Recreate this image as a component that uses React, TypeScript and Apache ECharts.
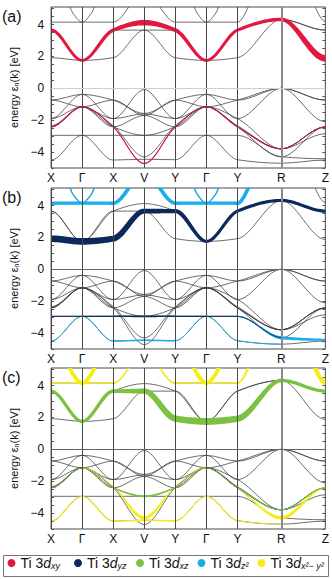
import { useEffect, useRef } from 'react';
import * as echarts from 'echarts';

// ---------- path / axes ----------
const kNames = ['X', 'Γ', 'X', 'V', 'Y', 'Γ', 'Y', 'R', 'Z'];
const kPos = [0, 1, 2, 3, 4, 5, 6, 7.414, 8.828];
const yTickValues = [-4, -2, 0, 2, 4];
const panelLetters = ['(a)', '(b)', '(c)'];

// ---------- conduction bands (energies at kPos, eV) ----------
const bandT1 = [3.65, 1.75, 3.65, 4.12, 3.65, 1.75, 3.65, 4.32, 1.88];
const bandT2 = [1.92, 1.75, 1.92, 3.65, 3.65, 1.75, 3.65, 4.32, 3.65];
const bandT3 = [3.65, 1.75, 3.65, 3.65, 1.92, 1.75, 1.92, 4.32, 3.65];
// e_g bands ([k, E] pairs, parts above the window read as leaving it)
const bandE1 = [[0, 4.15], [1, 4.15], [2, 4.15], [3, 6.05], [4, 4.15], [5, 4.15], [6, 4.15], [6.75, 6.3], [8.1, 6.3], [8.828, 4.2]];
const bandE2a = [[0.35, 6.3], [0.7, 4.72], [1, 4.15], [1.3, 4.72], [1.65, 6.3]];
const bandE2b = [[4.35, 6.3], [4.7, 4.72], [5, 4.15], [5.3, 4.72], [5.65, 6.3]];

// ---------- valence bands (energies at kPos, eV) ----------
const bandV1 = [-0.74, -0.38, -0.74, -1.58, -0.74, -0.38, -0.74, 0.0, -0.74];
const bandV2 = [-1.9, -0.38, -1.9, -0.08, -1.9, -0.38, -1.9, 0.0, -0.74];
const bandV3 = [-0.74, -1.16, -0.74, -1.7, -0.74, -1.16, -0.74, 0.0, -2.1];
const bandV4 = [-2.42, -1.16, -2.42, -4.72, -2.42, -1.16, -2.42, -3.8, -2.42];
const bandV5 = [-2.35, -1.16, -2.35, -4.3, -2.35, -1.16, -2.35, -3.8, -2.85];
const bandV6 = [-1.9, -1.16, -1.9, -1.6, -1.9, -1.16, -1.9, -3.8, -2.42];
const bandV7 = [-2.42, -1.16, -2.42, -1.7, -2.42, -1.16, -2.42, -4.3, -2.42];
const bandV8 = [-4.5, -2.95, -4.5, -4.45, -4.48, -2.95, -4.48, -4.7, -4.5];
const bandV9 = [-2.95, -2.95, -2.95, -2.95, -2.95, -2.95, -2.95, -4.3, -4.42];
const bandV10 = [-2.42, -1.16, -2.42, -2.95, -2.42, -1.16, -2.42, -3.8, -2.42];

// ---------- orbital weights (0..1) at each band point ----------
const wXyT1 = [0.45, 0.4, 0.5, 0.8, 0.55, 0.4, 0.45, 0.5, 0.95];
const wXyV4 = [0.15, 0.15, 0.15, 0.15, 0.15, 0.15, 0.15, 0.15, 0.1];

const wYzT2 = [0.95, 0.95, 0.85, 0.7, 0.6, 0.45, 0.45, 0.45, 0.45];
const wYzV9 = [0.15, 0.15, 0.2, 0.25, 0.2, 0.15, 0.15, 0, 0];
const wZ2E1 = [0.5, 0.45, 0.5, 0.6, 0.5, 0.45, 0.5, 0.6, 0, 0];
const wZ2E2 = [0.2, 0.2, 0.2, 0.2, 0.2];
const wZ2V8 = [0.15, 0, 0.18, 0.2, 0.18, 0, 0.12, 0, 0];
const wZ2V9 = [0, 0, 0, 0, 0, 0, 0, 0.45, 0.3];

const wXzT3 = [0.45, 0.45, 0.5, 0.75, 0.9, 1.0, 0.9, 0.5, 0.45];
const wXzV10 = [0.12, 0.12, 0.15, 0.3, 0.15, 0.1, 0.15, 0.2, 0.15];
const wX2E1 = [0.2, 0.2, 0.2, 0.2, 0.2, 0.2, 0.2, 0.5, 0.6, 0.6];
const wX2E2 = [0.55, 0.55, 0.55, 0.55, 0.55];
const wX2V8 = [0.2, 0.1, 0.2, 0.2, 0.2, 0.1, 0.2, 0, 0];
const wX2V5 = [0, 0, 0.1, 0.5, 0.1, 0, 0, 0, 0];
const wX2V7 = [0, 0, 0, 0, 0, 0, 0, 0.5, 0.15];

// ---------- style ----------
const FONT = '"Liberation Sans", Arial, Helvetica, sans-serif';
const GRID_LEFT = 41;
const GRID_W = 287;
const GRID_H = 161;
const gridTops = [7, 188, 368];
const Y_MIN = -5;
const Y_MAX = 5.1;
const MAX_W = 7;
const colors = {
  xy: '#e4173f',
  yz: '#0b2a5a',
  xz: '#7cc242',
  z2: '#18aeea',
  x2: '#f6ee12',
};
const names = {
  xy: 'Ti 3dxy',
  yz: 'Ti 3dyz',
  xz: 'Ti 3dxz',
  z2: 'Ti 3dz2',
  x2: 'Ti 3dx2-y2',
};
const legendOrder: (keyof typeof colors)[] = ['xy', 'yz', 'xz', 'z2', 'x2'];
const legendLefts = [7.5, 74, 136, 197.5, 257.5];
const richNames: Record<string, string> = {
  'Ti 3dxy': '{n|Ti 3}{i|d}{s|xy}',
  'Ti 3dyz': '{n|Ti 3}{i|d}{s|yz}',
  'Ti 3dxz': '{n|Ti 3}{i|d}{s|xz}',
  'Ti 3dz2': '{n|Ti 3}{i|d}{s|z²}',
  'Ti 3dx2-y2': '{n|Ti 3}{i|d}{s|x²− y²}',
};

const hs = (vals: number[]) => vals.map((e, i) => [kPos[i], e]);
const allBands = [
  hs(bandT1), hs(bandT2), hs(bandT3), bandE1, bandE2a, bandE2b,
  hs(bandV1), hs(bandV2), hs(bandV3), hs(bandV4), hs(bandV5), hs(bandV6), hs(bandV7), hs(bandV8), hs(bandV9), hs(bandV10),
];

function slopes(pts: number[][]) {
  const n = pts.length;
  const d: number[] = [];
  for (let i = 0; i < n - 1; i++) d.push((pts[i + 1][1] - pts[i][1]) / (pts[i + 1][0] - pts[i][0]));
  const m = new Array(n).fill(0);
  for (let i = 1; i < n - 1; i++) {
    if (d[i - 1] * d[i] > 0) {
      const h0 = pts[i][0] - pts[i - 1][0];
      const h1 = pts[i + 1][0] - pts[i][0];
      const a = 2 * h1 + h0;
      const b = h1 + 2 * h0;
      m[i] = (a + b) / (a / d[i - 1] + b / d[i]);
    }
  }
  return m;
}

function segments(pts: number[][], weights?: number[]) {
  const m = slopes(pts);
  const out: number[][] = [];
  for (let i = 0; i < pts.length - 1; i++) {
    const w0 = weights ? weights[i] : 0;
    const w1 = weights ? weights[i + 1] : 0;
    if (weights && w0 === 0 && w1 === 0) continue;
    out.push([pts[i][0], pts[i][1], pts[i + 1][0], pts[i + 1][1], m[i], m[i + 1], w0, w1]);
  }
  return out;
}

function makeRender(color: string, thin: boolean) {
  return (_params: any, api: any) => {
    const k0 = api.value(0), e0 = api.value(1), k1 = api.value(2), e1 = api.value(3);
    const m0 = api.value(4), m1 = api.value(5), w0 = api.value(6), w1 = api.value(7);
    const h = (k1 - k0) / 3;
    const P0 = api.coord([k0, e0]);
    const C1 = api.coord([k0 + h, e0 + m0 * h]);
    const C2 = api.coord([k1 - h, e1 - m1 * h]);
    const P1 = api.coord([k1, e1]);
    const lw0 = w0 * MAX_W;
    const lw1 = w1 * MAX_W;
    if (thin || Math.max(lw0, lw1) < 1.5) {
      return {
        type: 'bezierCurve',
        shape: { x1: P0[0], y1: P0[1], cpx1: C1[0], cpy1: C1[1], cpx2: C2[0], cpy2: C2[1], x2: P1[0], y2: P1[1] },
        style: { stroke: color, fill: 'none', lineWidth: thin ? 0.75 : Math.max(0.9, (lw0 + lw1) / 2) },
      };
    }
    const N = 24;
    const left: number[][] = [];
    const right: number[][] = [];
    for (let j = 0; j <= N; j++) {
      const t = j / N;
      const u = 1 - t;
      const x = u * u * u * P0[0] + 3 * u * u * t * C1[0] + 3 * u * t * t * C2[0] + t * t * t * P1[0];
      const y = u * u * u * P0[1] + 3 * u * u * t * C1[1] + 3 * u * t * t * C2[1] + t * t * t * P1[1];
      const dx = 3 * u * u * (C1[0] - P0[0]) + 6 * u * t * (C2[0] - C1[0]) + 3 * t * t * (P1[0] - C2[0]);
      const dy = 3 * u * u * (C1[1] - P0[1]) + 6 * u * t * (C2[1] - C1[1]) + 3 * t * t * (P1[1] - C2[1]);
      const len = Math.hypot(dx, dy) || 1;
      const nx = -dy / len;
      const ny = dx / len;
      const hw = Math.max(0.45, (lw0 + (lw1 - lw0) * t) / 2);
      left.push([x + nx * hw, y + ny * hw]);
      right.push([x - nx * hw, y - ny * hw]);
    }
    return {
      type: 'polygon',
      shape: { points: left.concat(right.reverse()) },
      style: { fill: color },
    };
  };
}

type Fat = { key: keyof typeof colors; parts: [number[][], number[]][] };
const panels: Fat[][] = [
  [{ key: 'xy', parts: [[hs(bandT1), wXyT1], [hs(bandV4), wXyV4]] }],
  [
    { key: 'z2', parts: [[bandE1, wZ2E1], [bandE2a, wZ2E2], [bandE2b, wZ2E2], [hs(bandV8), wZ2V8], [hs(bandV9), wZ2V9]] },
    { key: 'yz', parts: [[hs(bandT2), wYzT2], [hs(bandV9), wYzV9]] },
  ],
  [
    { key: 'x2', parts: [[bandE1, wX2E1], [bandE2a, wX2E2], [bandE2b, wX2E2], [hs(bandV8), wX2V8], [hs(bandV5), wX2V5], [hs(bandV7), wX2V7]] },
    { key: 'xz', parts: [[hs(bandT3), wXzT3], [hs(bandV10), wXzV10]] },
  ],
];

const tickHalf: number[] = [];
for (let v = -5; v <= 5.0001; v += 0.5) tickHalf.push(Math.round(v * 10) / 10);

const legendRich = {
  n: { fontSize: 14, fontFamily: FONT, color: '#111' },
  i: { fontSize: 14, fontFamily: FONT, fontStyle: 'italic', color: '#111' },
  s: { fontSize: 9, fontFamily: FONT, fontStyle: 'italic', color: '#111', padding: [6, 0, 0, 0] },
};

function buildOption() {
  const grid: any[] = [];
  const xAxis: any[] = [];
  const yAxis: any[] = [];
  const series: any[] = [];
  gridTops.forEach((top, p) => {
    grid.push({ left: GRID_LEFT, top, width: GRID_W, height: GRID_H, show: true, borderColor: '#4a4a4a', borderWidth: 1, backgroundColor: 'transparent' });
    xAxis.push({
      gridIndex: p, type: 'value', min: 0, max: kPos[kPos.length - 1],
      axisLine: { show: false }, axisTick: { show: false }, splitLine: { show: false },
      axisLabel: {
        customValues: kPos,
        formatter: (v: number) => kNames[kPos.indexOf(v)] ?? '',
        fontSize: 12, fontFamily: FONT, color: '#111', margin: 4,
      },
    });
    yAxis.push({
      gridIndex: p, type: 'value', min: Y_MIN, max: Y_MAX, position: 'left',
      name: 'energy ε{s|n}(k) [eV]', nameLocation: 'middle', nameGap: 20,
      nameTextStyle: { fontSize: 11, fontFamily: FONT, color: '#111', rich: { s: { fontSize: 7, fontFamily: FONT, padding: [5, 0, 0, 0] } } },
      axisLine: { show: false },
      axisTick: { show: true, inside: true, length: 3, customValues: tickHalf, lineStyle: { color: '#555' } },
      splitLine: { show: false },
      axisLabel: {
        customValues: yTickValues,
        formatter: (v: number) => String(v).replace('-', '−'),
        fontSize: 12, fontFamily: FONT, color: '#111', margin: 7,
      },
    });
    yAxis.push({
      gridIndex: p, type: 'value', min: Y_MIN, max: Y_MAX, position: 'right',
      axisLine: { show: false },
      axisTick: { show: true, inside: true, length: 3, customValues: tickHalf, lineStyle: { color: '#555' } },
      splitLine: { show: false }, axisLabel: { show: false },
    });
    const yIdx = p * 2;
    const thinData: number[][] = [];
    allBands.forEach((b) => thinData.push(...segments(b)));
    series.push({
      type: 'custom', xAxisIndex: p, yAxisIndex: yIdx, clip: true, silent: true,
      renderItem: makeRender('#3c3c3c', true),
      encode: { x: [0, 2], y: [1, 3] },
      data: thinData,
      z: 2,
      markLine: {
        silent: true, symbol: ['none', 'none'], label: { show: false },
        data: [
          ...kPos.map((k, i) => ({ xAxis: k, lineStyle: { type: 'solid', color: i === 7 ? '#8a8a8a' : '#4a4a4a', width: i === 7 ? 2 : 1 } })),
          { yAxis: 0, lineStyle: { type: 'solid', color: p === 0 ? '#cfcfcf' : '#666', width: 1 } },
        ],
      },
    });
    panels[p].forEach((fat, fi) => {
      const data: number[][] = [];
      fat.parts.forEach(([pts, w]) => data.push(...segments(pts, w)));
      series.push({
        type: 'custom', name: names[fat.key], xAxisIndex: p, yAxisIndex: yIdx, clip: true, silent: true,
        renderItem: makeRender(colors[fat.key], false),
        encode: { x: [0, 2], y: [1, 3] },
        itemStyle: { color: colors[fat.key] },
        data,
        z: 3 + fi,
      });
    });
  });

  return {
    animation: false,
    backgroundColor: '#fff',
    grid, xAxis, yAxis, series,
    legend: legendOrder.map((key, i) => ({
      data: [names[key]],
      left: legendLefts[i], top: 556, icon: 'circle', itemWidth: 8, itemHeight: 8, itemGap: 0,
      padding: 0,
      selectedMode: false,
      formatter: (n: string) => richNames[n] ?? n,
      textStyle: { fontSize: 14, fontFamily: FONT, color: '#111', rich: legendRich },
    })),
    graphic: [
      ...gridTops.map((top, p) => ({
        type: 'text', left: 2, top: top + 1,
        style: { text: panelLetters[p], fontSize: 16, fontFamily: FONT, fill: '#111' },
      })),
      { type: 'rect', shape: { x: 3.5, y: 555.5, width: 325, height: 21 }, style: { fill: 'none', stroke: '#777', lineWidth: 1 } },
    ],
  };
}

export default function App() {
  const ref = useRef<HTMLDivElement>(null);
  useEffect(() => {
    if (!ref.current) return;
    const chart = echarts.init(ref.current, null, { renderer: 'svg' });
    chart.setOption(buildOption() as any);
    return () => chart.dispose();
  }, []);
  return <div ref={ref} style={{ width: 332, height: 579, position: 'absolute', left: 0, top: 0 }} />;
}
